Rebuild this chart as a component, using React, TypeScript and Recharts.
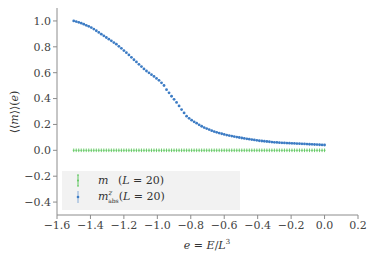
import React from "react";
import { ScatterChart, Scatter, XAxis, YAxis } from "recharts";

// energy density e = E/L^3, step 0.015 from -1.5 to 0
const eValues = [
  -1.5, -1.485, -1.47, -1.455, -1.44, -1.425, -1.41, -1.395, -1.38, -1.365,
  -1.35, -1.335, -1.32, -1.305, -1.29, -1.275, -1.26, -1.245, -1.23, -1.215,
  -1.2, -1.185, -1.17, -1.155, -1.14, -1.125, -1.11, -1.095, -1.08, -1.065,
  -1.05, -1.035, -1.02, -1.005, -0.99, -0.975, -0.96, -0.945, -0.93, -0.915,
  -0.9, -0.885, -0.87, -0.855, -0.84, -0.825, -0.81, -0.795, -0.78, -0.765,
  -0.75, -0.735, -0.72, -0.705, -0.69, -0.675, -0.66, -0.645, -0.63, -0.615,
  -0.6, -0.585, -0.57, -0.555, -0.54, -0.525, -0.51, -0.495, -0.48, -0.465,
  -0.45, -0.435, -0.42, -0.405, -0.39, -0.375, -0.36, -0.345, -0.33, -0.315,
  -0.3, -0.285, -0.27, -0.255, -0.24, -0.225, -0.21, -0.195, -0.18, -0.165,
  -0.15, -0.135, -0.12, -0.105, -0.09, -0.075, -0.06, -0.045, -0.03, -0.015,
  0.0,
];

const mAbsZ = [
  1.0, 0.995, 0.989, 0.983, 0.975, 0.966, 0.958, 0.949, 0.937, 0.924,
  0.911, 0.898, 0.885, 0.872, 0.859, 0.846, 0.833, 0.82, 0.804, 0.788,
  0.771, 0.755, 0.737, 0.719, 0.7, 0.683, 0.665, 0.647, 0.629, 0.613,
  0.599, 0.585, 0.571, 0.556, 0.541, 0.522, 0.501, 0.469, 0.444, 0.418,
  0.394, 0.37, 0.343, 0.315, 0.289, 0.264, 0.247, 0.233, 0.22, 0.21,
  0.197, 0.186, 0.176, 0.168, 0.16, 0.152, 0.145, 0.139, 0.133, 0.128,
  0.123, 0.118, 0.114, 0.11, 0.106, 0.102, 0.099, 0.095, 0.092, 0.089,
  0.086, 0.083, 0.08, 0.077, 0.074, 0.072, 0.07, 0.068, 0.066, 0.064,
  0.062, 0.061, 0.059, 0.058, 0.057, 0.056, 0.055, 0.054, 0.053, 0.052,
  0.051, 0.05, 0.049, 0.048, 0.047, 0.046, 0.045, 0.044, 0.043, 0.042,
  0.041,
];

const mValues = [
  0, 0, 0, 0, 0, 0, 0, 0, 0, 0, 0, 0, 0, 0, 0, 0, 0, 0, 0, 0,
  0, 0, 0, 0, 0, 0, 0, 0, 0, 0, 0, 0, 0, 0, 0, 0, 0, 0, 0, 0,
  0, 0, 0, 0, 0, 0, 0, 0, 0, 0, 0, 0, 0, 0, 0, 0, 0, 0, 0, 0,
  0, 0, 0, 0, 0, 0, 0, 0, 0, 0, 0, 0, 0, 0, 0, 0, 0, 0, 0, 0,
  0, 0, 0, 0, 0, 0, 0, 0, 0, 0, 0, 0, 0, 0, 0, 0, 0, 0, 0, 0,
  0,
];

const xTicks = [-1.6, -1.4, -1.2, -1.0, -0.8, -0.6, -0.4, -0.2, 0.0, 0.2];
const yTicks = [-0.4, -0.2, 0.0, 0.2, 0.4, 0.6, 0.8, 1.0];

const BLUE = "#3d7cc4";
const GREEN = "#62c862";
const FONT = "DejaVu Serif";

const absData = eValues.map((e, i) => ({ e, v: mAbsZ[i] }));
const mData = eValues.map((e, i) => ({ e, v: mValues[i] }));

const fmt = (v: number) => {
  const s = Math.abs(v).toFixed(1);
  return v < -1e-9 ? "\u2212" + s : s;
};

const BlueDot = (props: any) => {
  const { cx, cy } = props;
  return <circle cx={cx} cy={cy} r={1.4} fill={BLUE} />;
};

const GreenBar = (props: any) => {
  const { cx, cy } = props;
  return (
    <g stroke={GREEN} strokeWidth={0.9}>
      <line x1={cx} y1={cy - 1.8} x2={cx} y2={cy + 1.8} />
      <line x1={cx - 1} y1={cy} x2={cx + 1} y2={cy} />
    </g>
  );
};

export default function App() {
  return (
    <div
      style={{
        position: "fixed",
        left: 0,
        top: 0,
        width: 374,
        height: 259,
        background: "#fff",
        fontFamily: FONT,
      }}
    >
      <ScatterChart
        width={374}
        height={259}
        margin={{ top: 8, right: 16, bottom: 14, left: 0 }}
        style={{ fontFamily: FONT }}
      >
        <XAxis
          type="number"
          dataKey="e"
          domain={[-1.6, 0.2]}
          ticks={xTicks}
          tickFormatter={fmt}
          height={30}
          stroke="#8c8c8c"
          tickSize={4}
          tick={{ fill: "#444", fontSize: 11, fontFamily: FONT }}
          allowDataOverflow
        />
        <YAxis
          type="number"
          dataKey="v"
          domain={[-0.5, 1.1]}
          ticks={yTicks}
          tickFormatter={fmt}
          width={57}
          stroke="#8c8c8c"
          tickSize={4}
          tick={{ fill: "#444", fontSize: 11, fontFamily: FONT }}
          allowDataOverflow
        />
        <Scatter data={mData} shape={GreenBar} isAnimationActive={false} />
        <Scatter data={absData} shape={BlueDot} isAnimationActive={false} />
      </ScatterChart>

      <svg
        width={374}
        height={259}
        style={{ position: "absolute", left: 0, top: 0, pointerEvents: "none", fontFamily: FONT }}
      >
        <text
          x={0}
          y={0}
          transform="translate(18,112) rotate(-90)"
          textAnchor="middle"
          fontSize={11}
          fill="#333"
        >
          {"\u27e8\u27e8"}
          <tspan fontStyle="italic">m</tspan>
          {"\u27e9\u27e9("}
          <tspan fontStyle="italic">e</tspan>
          {")"}
        </text>
        <text x={207} y={249} textAnchor="middle" fontSize={11} fill="#333">
          <tspan fontStyle="italic">e</tspan>
          {" = "}
          <tspan fontStyle="italic">E</tspan>
          {"/"}
          <tspan fontStyle="italic">L</tspan>
          <tspan fontSize={7} dy={-5}>3</tspan>
        </text>

        <rect x={62} y={171} width={178} height={39} fill="#f2f2f2" />
        <g stroke={GREEN} strokeWidth={1}>
          <line x1={78} y1={175} x2={78} y2={186} />
          <line x1={77} y1={175} x2={79} y2={175} />
          <line x1={77} y1={186} x2={79} y2={186} />
          <circle cx={78} cy={180.5} r={1} fill={GREEN} stroke="none" />
        </g>
        <g stroke={BLUE} strokeOpacity={0.6} strokeWidth={1}>
          <line x1={78} y1={191} x2={78} y2={203} />
          <circle cx={78} cy={197} r={1.3} fill={BLUE} stroke="none" />
        </g>
        <text x={98} y={184} fontSize={11} fill="#333">
          <tspan fontStyle="italic">m</tspan>
          <tspan x={118}>(</tspan>
          <tspan fontStyle="italic">L</tspan>
          {" = 20)"}
        </text>
        <text x={98} y={200} fontSize={11} fill="#333">
          <tspan fontStyle="italic">m</tspan>
          <tspan fontSize={7} fontStyle="italic" dy={-5}>z</tspan>
          <tspan fontSize={6} dx={-4} dy={8}>abs</tspan>
          <tspan dy={-3}>(</tspan>
          <tspan fontStyle="italic">L</tspan>
          {" = 20)"}
        </text>
      </svg>
    </div>
  );
}
